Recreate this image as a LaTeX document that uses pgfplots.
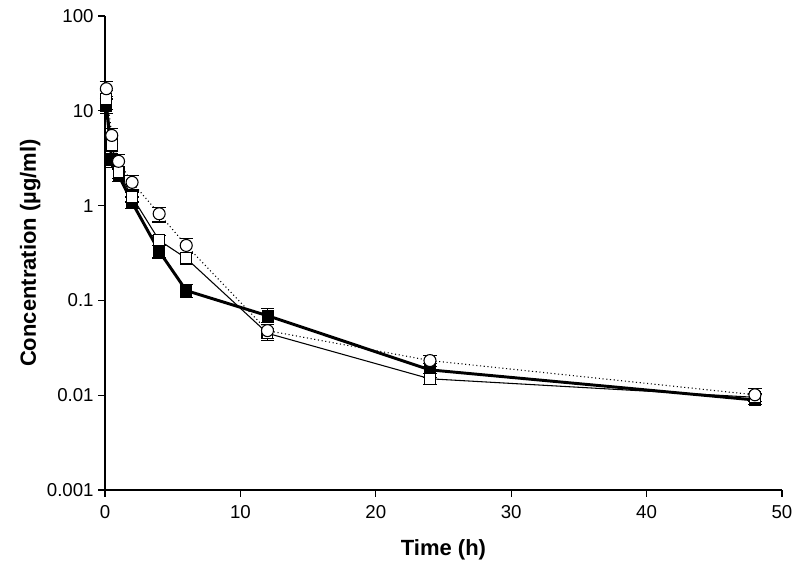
\documentclass[border=0pt]{standalone}
\usepackage{fontspec}
\setmainfont{Liberation Sans}
\usepackage{pgfplots}
\pgfplotsset{compat=1.18}
\begin{document}
\begin{tikzpicture}
\useasboundingbox (0,0) rectangle (600pt,423.75pt);
\begin{axis}[
  at={(78.75pt,56.25pt)}, anchor=south west,
  scale only axis, width=507.75pt, height=355.5pt,
  ymode=log, xmin=0, xmax=50, ymin=0.001, ymax=100,
  axis lines*=left,
  axis line style={line width=1.1pt},
  xtick={0,10,20,30,40,50},
  ytick={0.001,0.01,0.1,1,10,100},
  yticklabels={0.001,0.01,0.1,1,10,100},
  yminorticks=false,
  tick align=outside, major tick length=5pt,
  tick style={black, line width=0.8pt},
  /pgf/number format/assume math mode=true,
  every tick label/.append style={font=\fontsize{14pt}{16pt}\selectfont},
  xticklabel style={yshift=-3pt},
  every axis label/.append style={font=\fontsize{16.5pt}{19pt}\selectfont\bfseries},
  xlabel={Time (h)}, ylabel={Concentration (µg/ml)},
  xlabel style={yshift=-9pt},
  ylabel style={yshift=-2pt},
  clip=false,
]
% filled squares
\addplot[black, line width=2.2pt, mark=square*, mark size=4.1pt, mark options={solid, line width=0.6pt, fill=black},
  error bars/.cd, y dir=both, y explicit, error bar style={line width=0.9pt, solid}, error mark options={rotate=90, mark size=5pt, line width=0.9pt}]
  table[x=t, y=c, y error plus=ep, y error minus=em] {
t c ep em
0.1 11.3 2 2
0.5 3.0 0.5 0.5
1 2.1 0.3 0.3
2 1.08 0.15 0.15
4 0.33 0.05 0.05
6 0.127 0.02 0.02
12 0.069 0.013 0.011
24 0.0185 0.003 0.003
48 0.0089 0.0012 0.0009
};
% open squares
\addplot[black, line width=0.8pt, mark=square*, mark size=4.1pt, mark options={solid, line width=0.8pt, fill=white},
  error bars/.cd, y dir=both, y explicit, error bar style={line width=0.9pt, solid}, error mark options={rotate=90, mark size=5pt, line width=0.9pt}]
  table[x=t, y=c, y error plus=ep, y error minus=em] {
t c ep em
0.1 13.4 3 3
0.5 4.4 0.7 0.7
1 2.25 0.3 0.3
2 1.24 0.15 0.15
4 0.43 0.05 0.05
6 0.278 0.04 0.04
12 0.045 0.006 0.007
24 0.0149 0.002 0.002
48 0.0095 0.001 0.001
};
% open circles
\addplot[black, line width=0.8pt, dotted, mark=*, mark size=4.5pt, mark options={solid, line width=0.8pt, fill=white},
  error bars/.cd, y dir=both, y explicit, error bar style={line width=0.9pt, solid}, error mark options={rotate=90, mark size=5pt, line width=0.9pt, solid}]
  table[x=t, y=c, y error plus=ep, y error minus=em] {
t c ep em
0.1 17.1 3.2 3
0.5 5.5 1 1
1 2.93 0.5 0.5
2 1.76 0.3 0.3
4 0.82 0.14 0.15
6 0.38 0.07 0.07
12 0.048 0.008 0.008
24 0.0232 0.003 0.003
48 0.0101 0.0017 0.0015
};
\end{axis}
\end{tikzpicture}
\end{document}
